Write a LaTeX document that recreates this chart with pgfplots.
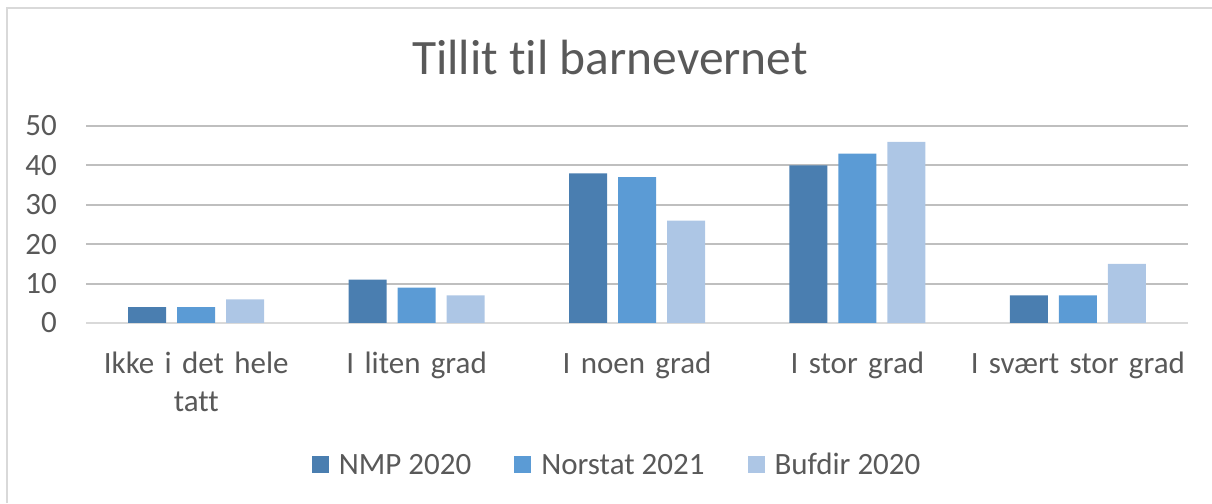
\documentclass[border=0pt]{standalone}
\usepackage{pgfplots}
\pgfplotsset{compat=1.18}
\usepackage{fontspec}
\setmainfont{Carlito}[RawFeature=-liga]
\definecolor{txt}{HTML}{595959}
\definecolor{grid}{HTML}{D9D9D9}
\definecolor{cA}{HTML}{4A7EB0}
\definecolor{cB}{HTML}{5B9BD5}
\definecolor{cC}{HTML}{ADC6E5}
\begin{document}
\begin{tikzpicture}[x=1pt,y=1pt]
\useasboundingbox (0,0) rectangle (1212,503);
\draw[grid, line width=2pt] (7,0) -- (7,495) -- (1212,495);
\begin{axis}[
  at={(86pt,180pt)}, anchor=south west,
  scale only axis, width=1102pt, height=197pt,
  ybar, bar width=38pt,
  xmin=-0.5, xmax=4.5, ymin=0, ymax=50,
  xtick=data,
  xticklabels={{Ikke i det hele\\tatt}, I liten grad, I noen grad, I stor grad, I svært stor grad},
  ytick={0,10,20,30,40,50},
  /pgf/number format/assume math mode=true,
  axis x line*=bottom, axis y line*=left,
  x axis line style={draw=grid, line width=2pt, -},
  y axis line style={draw=none},
  tick style={draw=none}, major tick length=0pt,
  xmajorgrids=false, ymajorgrids=true,
  grid style={grid, line width=2pt},
  xticklabel style={font=\fontsize{31}{38}\selectfont, color=txt, text width=215pt, align=center, inner sep=0pt, anchor=north, yshift=-29pt},
  yticklabel style={font=\fontsize{31}{38}\selectfont, color=txt, inner sep=0pt, anchor=east, xshift=-29pt},
  title={Tillit til barnevernet},
  title style={font=\fontsize{49.5}{58}\selectfont, color=txt, at={(0.5,1)}, anchor=base, yshift=45pt, xshift=-27pt},
  legend columns=3,
  legend style={at={(0.482,-0.72)}, anchor=center, draw=none, fill=none,
    font=\fontsize{31}{38}\selectfont, text=txt,
    /tikz/every odd column/.append style={column sep=8pt},
    /tikz/every even column/.append style={column sep=41pt},
    nodes={inner sep=0pt, inner xsep=2pt}},
  legend image code/.code={\fill[#1] (0pt,-8.5pt) rectangle (17pt,8.5pt);},
]
\addplot[fill=cA, draw=none, bar shift=-49pt] coordinates {(0,4) (1,11) (2,38) (3,40) (4,7)};
\addplot[fill=cB, draw=none, bar shift=0pt] coordinates {(0,4) (1,9) (2,37) (3,43) (4,7)};
\addplot[fill=cC, draw=none, bar shift=49pt] coordinates {(0,6) (1,7) (2,26) (3,46) (4,15)};
\legend{NMP 2020, Norstat 2021, Bufdir 2020}
\end{axis}
\end{tikzpicture}
\end{document}
